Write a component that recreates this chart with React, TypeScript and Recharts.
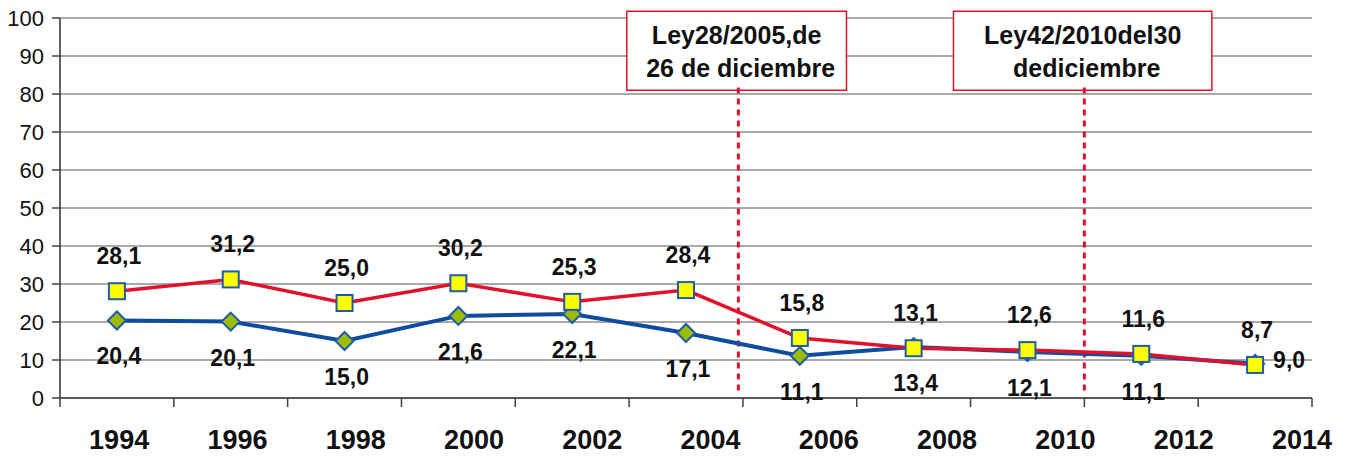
import React from 'react';
import {
  LineChart, Line, XAxis, YAxis, CartesianGrid, ReferenceLine,
  ReferenceArea, LabelList
} from 'recharts';

const years = [1994, 1996, 1998, 2000, 2002, 2004, 2006, 2008, 2010, 2012, 2014];
const redValues = [28.1, 31.2, 25.0, 30.2, 25.3, 28.4, 15.8, 13.1, 12.6, 11.6, 8.7];
const blueValues = [20.4, 20.1, 15.0, 21.6, 22.1, 17.1, 11.1, 13.4, 12.1, 11.1, 9.0];
const yTicks = [0, 10, 20, 30, 40, 50, 60, 70, 80, 90, 100];
const lawNotes = [
  { at: 5.96, lines: ['Ley28/2005,de', '26 de diciembre'], x1: 4.98, x2: 6.91 },
  { at: 9, lines: ['Ley42/2010del30', 'dediciembre'], x1: 7.85, x2: 10.12 },
];

const rows = redValues.map((r, i) => ({ x: i + 0.5, red: r, blue: blueValues[i] }));
const catTicks = [...years.map((_, i) => i), years.length];

const FONT = '"Liberation Sans", Arial, sans-serif';
const RED = '#E3102C';
const BLUE = '#0E4D9E';
const fmt = (v: number) => v.toFixed(1).replace('.', ',');

const Square = (p: any) => (
  <rect key={`s${p.index}`} x={p.cx - 8} y={p.cy - 8} width={16} height={16}
    fill="#FFFF00" stroke="#1F5CA8" strokeWidth={2} />
);

const Diamond = (p: any) => (
  <polygon key={`d${p.index}`}
    points={`${p.cx},${p.cy - 9} ${p.cx + 9},${p.cy} ${p.cx},${p.cy + 9} ${p.cx - 9},${p.cy}`}
    fill="#9DBB00" stroke="#1F5CA8" strokeWidth={2} />
);

const ValueLabel = (side: 'above' | 'below') => (p: any) => {
  const last = p.index === years.length - 1;
  let dx = 2;
  let dy = side === 'above' ? -35 : 36;
  if (side === 'below' && last) { dx = 34; dy = -4; }
  return (
    <text x={p.x + dx} y={p.y + dy} textAnchor="middle" dominantBaseline="central"
      fontFamily={FONT} fontSize={23} fontWeight="bold" fill="#111">
      {fmt(Number(p.value))}
    </text>
  );
};

const BoxText = ({ viewBox, lines }: any) => {
  const cx = viewBox.x + viewBox.width / 2;
  return (
    <g>
      {lines.map((t: string, i: number) => (
        <text key={i} x={cx + (i === 1 ? 4 : 0)} y={viewBox.y + 24 + i * 33}
          textAnchor="middle" dominantBaseline="central"
          fontFamily={FONT} fontSize={25} fontWeight="bold" fill="#111">
          {t}
        </text>
      ))}
    </g>
  );
};

export default function App() {
  return (
    <div style={{ position: 'absolute', left: 0, top: 0, background: '#fff' }}>
      <LineChart width={1350} height={459} data={rows}
        margin={{ top: 18, right: 38, bottom: 0, left: 0 }}>
        <CartesianGrid vertical={false} stroke="#8C8C8C" strokeWidth={1.5} />
        <XAxis xAxisId="cat" dataKey="x" type="number" domain={[0, years.length]}
          ticks={catTicks} tickFormatter={() => ''} tickSize={9} height={24}
          axisLine={{ stroke: '#404040', strokeWidth: 1.5 }}
          tickLine={{ stroke: '#404040', strokeWidth: 1.5 }} />
        <XAxis xAxisId="yr" dataKey="x" type="number" domain={[1993, 2014.17]}
          allowDataOverflow ticks={years} axisLine={false} tickLine={false} height={37}
          interval={0}
          tick={{ fontFamily: FONT, fontSize: 27, fontWeight: 'bold', fill: '#111' }} />
        <YAxis type="number" domain={[0, 100]} ticks={yTicks} width={60}
          tickSize={8} tickMargin={8} interval={0}
          axisLine={{ stroke: '#303030', strokeWidth: 1.5 }}
          tickLine={{ stroke: '#404040', strokeWidth: 1.5 }}
          tick={{ fontFamily: FONT, fontSize: 22, fill: '#111' }} />
        {lawNotes.map((n, i) => (
          <ReferenceLine key={`l${i}`} xAxisId="cat" ifOverflow="visible"
            segment={[{ x: n.at, y: 2 }, { x: n.at, y: 82 }]}
            stroke={RED} strokeWidth={3} strokeDasharray="6 5" />
        ))}
        {lawNotes.map((n, i) => (
          <ReferenceArea key={`a${i}`} xAxisId="cat" x1={n.x1} x2={n.x2} y1={81} y2={101.8}
            ifOverflow="visible" fill="#fff" fillOpacity={1} stroke={RED} strokeWidth={1.5}
            label={<BoxText lines={n.lines} />} />
        ))}
        <Line xAxisId="cat" dataKey="blue" stroke={BLUE} strokeWidth={4}
          dot={Diamond} activeDot={false} isAnimationActive={false}>
          <LabelList dataKey="blue" content={ValueLabel('below')} />
        </Line>
        <Line xAxisId="cat" dataKey="red" stroke={RED} strokeWidth={3.5}
          dot={Square} activeDot={false} isAnimationActive={false}>
          <LabelList dataKey="red" content={ValueLabel('above')} />
        </Line>
      </LineChart>
    </div>
  );
}
